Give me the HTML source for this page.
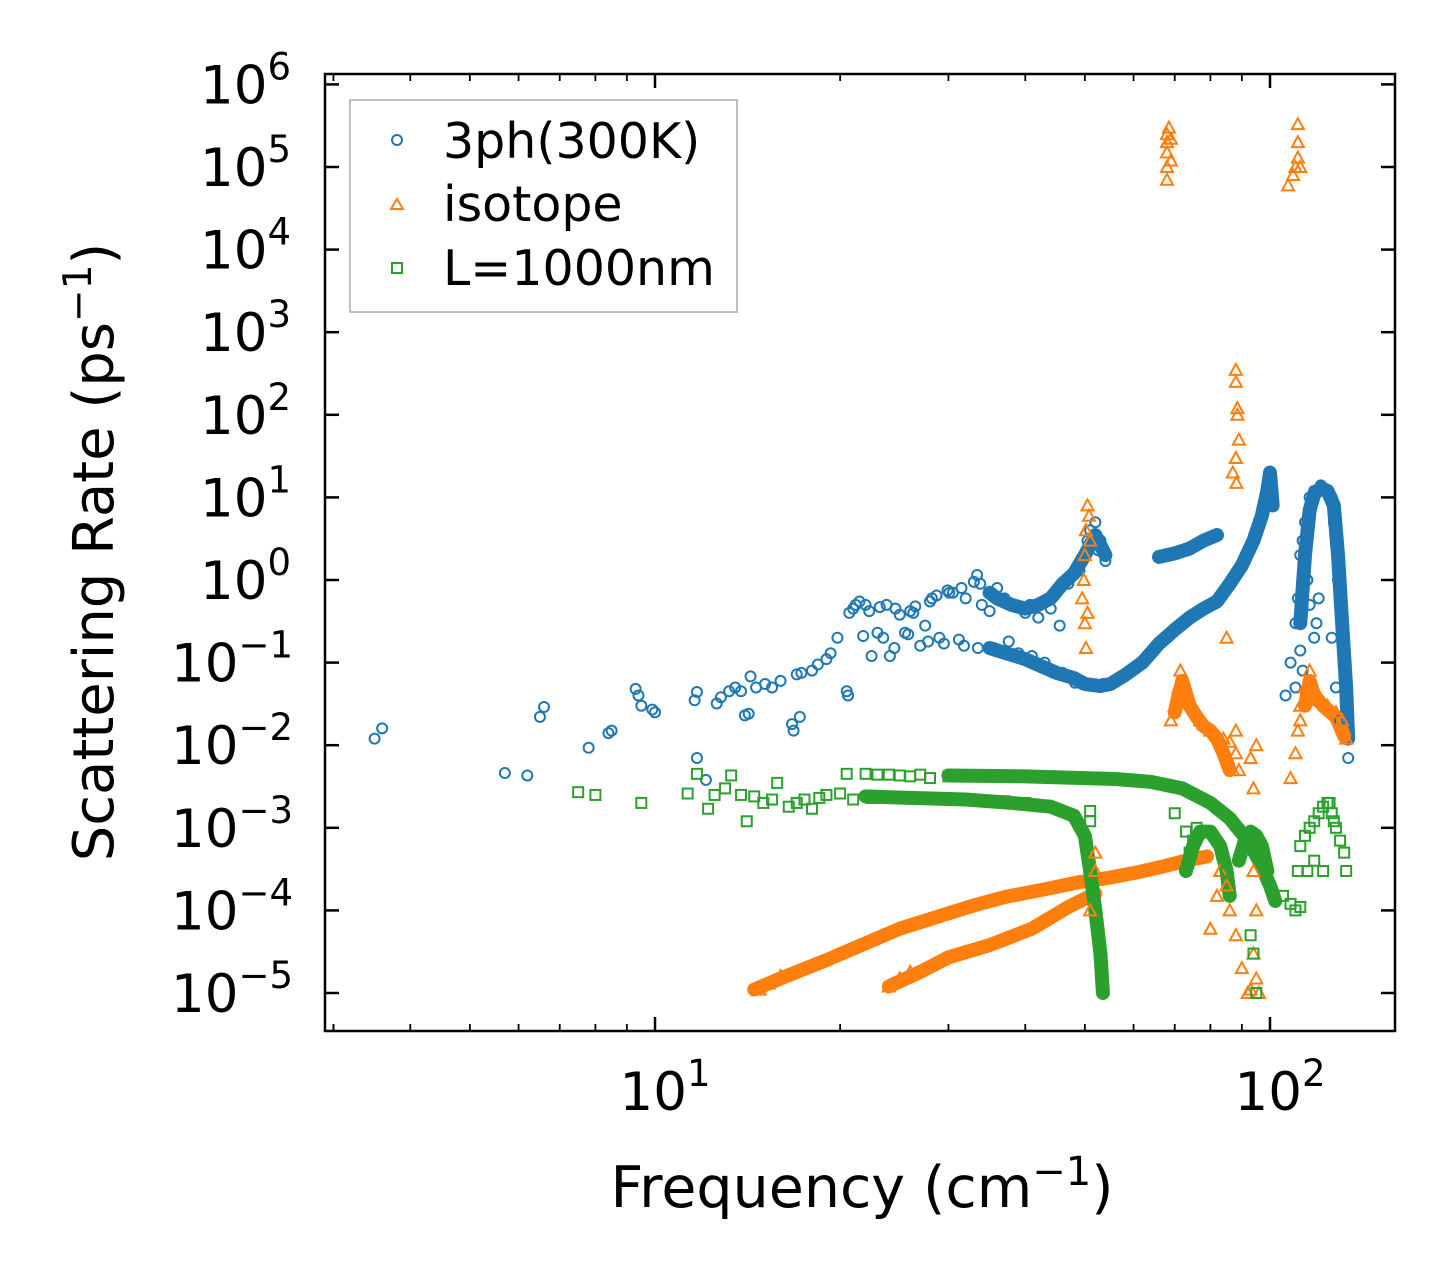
<!DOCTYPE html>
<html><head><meta charset="utf-8">
<style>
html,body{margin:0;padding:0;background:#fff;}
svg{display:block;font-family:"DejaVu Sans","Liberation Sans",sans-serif;}
</style></head>
<body>
<svg id="chart" width="1455" height="1281" viewBox="0 0 1455 1281" xmlns="http://www.w3.org/2000/svg">
<g id="bands"></g>
<g id="marks"></g>
<rect x="325" y="74" width="1070" height="957" fill="none" stroke="#000" stroke-width="2.5"/>
<g id="axes"></g>
<text x="862" y="1207" font-size="57" text-anchor="middle">Frequency (cm<tspan dy="-22" font-size="40">−1</tspan><tspan dy="22">)</tspan></text>
<text transform="translate(113,552) rotate(-90)" font-size="56" text-anchor="middle">Scattering Rate (ps<tspan dy="-22" font-size="39">−1</tspan><tspan dy="22">)</tspan></text>
<g>
<rect x="350" y="100" width="387" height="212" fill="#fff" fill-opacity="0.8" stroke="#aaa" stroke-width="1.5"/>
<circle cx="397" cy="140" r="5" fill="none" stroke="#1f77b4" stroke-width="2"/>
<text x="443" y="158" font-size="49">3ph(300K)</text>
<path d="M391,209 L397,199 L403,209 Z" fill="none" stroke="#ff7f0e" stroke-width="2"/>
<text x="443" y="221" font-size="49">isotope</text>
<rect x="392" y="263" width="10" height="10" fill="none" stroke="#2ca02c" stroke-width="2"/>
<text x="443" y="285" font-size="49">L=1000nm</text>
</g>
</svg>
<script>
const xTicks=[10,100];
const xTickLabels=["1","2"];
const yTickExps=[-5,-4,-3,-2,-1,0,1,2,3,4,5,6];
const blueF=[3.5,3.6,5.7,6.2,6.5,6.6,7.8,8.4,8.5,9.3,9.4,9.5,9.9,10,11.6,11.7,11.7,12.1,12.6,12.8,13.2,13.5,13.8,14.0,14.2,14.3,14.6,15.1,15.5,16,16.7,16.8,17,17.2,17.3,18,18.4,19,19.3,19.8,20.5,20.6,20.7,21,21.5,22,22.5,23,23.2,23.8,24.1,24.5,25,25.5,26,26.5,27,27.5,28,28.7,29,29.9,30.5,31.2,32,33,33.4,34,35,35.5,36,37,37.6,38,39,40,40.7,41,42,43,43.8,44,45,45.5,46,47,48,48.2,49,49.5,50,50.5,51,51.5,52,52.5,53,53.5,54,106,108,110,111,112,113,114,116,118,121,124,126,127,128,129,130,131,132,133,133.5,134,112,113,110,115,116,118,119,120,126,128,130,21.2,22.3,24.6,26.3,28.2,30.1,31.5,33.8,21.8,23.5,25.8,27.8,29.5,31.8,33.5];
const blueV=[0.012,0.016,0.0046,0.0043,0.022,0.029,0.0093,0.014,0.015,0.048,0.04,0.03,0.027,0.025,0.035,0.044,0.007,0.0038,0.032,0.038,0.045,0.05,0.045,0.023,0.024,0.068,0.05,0.055,0.05,0.06,0.018,0.015,0.072,0.022,0.075,0.08,0.095,0.11,0.13,0.2,0.045,0.04,0.4,0.45,0.55,0.5,0.12,0.23,0.47,0.5,0.12,0.15,0.38,0.23,0.42,0.48,0.16,0.28,0.55,0.65,0.2,0.75,0.7,0.19,0.6,0.95,1.15,0.5,0.42,0.15,0.8,0.6,0.18,0.5,0.13,0.4,0.5,0.12,0.35,0.1,0.08,0.45,0.7,0.28,0.075,0.9,0.065,0.057,1.3,0.055,2,3,4,0.052,5,2.3,3,0.055,1.7,0.04,0.1,0.3,0.6,2,3,5,10,12,14,12,10,5,3,1,0.5,0.3,0.1,0.05,0.02,0.007,0.14,0.08,0.05,1,0.5,0.2,0.3,0.6,0.2,0.05,0.02,0.5,0.42,0.45,0.4,0.6,0.7,0.8,0.9,0.21,0.2,0.22,0.18,0.17,0.16,0.15];
const orangeF=[68,68,68,68,68,68.5,69,69,107,109,110,111,111,111,112,49.5,49.8,50,50.2,50.5,50.8,51,50,50.2,50.5,88,88,88.5,88.5,89,88,87,88.2,85,69,70,71,71.5,72,73,74,75,76,77,78,80,82,84,86,88,89,88,87,108,110,111,112,114,116,118,120,124,128,131,133,112,85,86,88,90,92,93,94,95,96,95,94,93,94,95,82,83,80,51,52,52,14.8,15.3,16,24,25,26];
const orangeV=[7e4,1e5,1.5e5,2e5,2.5e5,3e5,1.2e5,2.2e5,6e4,8e4,1e5,1.3e5,3.3e5,2e5,1e5,0.6,1,2,4,8,6,3,0.3,0.15,0.4,350,250,120,100,50,30,20,15,0.2,0.02,0.03,0.05,0.08,0.06,0.045,0.035,0.03,0.025,0.02,0.018,0.015,0.013,0.012,0.011,0.008,0.005,0.015,0.005,0.004,0.008,0.015,0.03,0.05,0.08,0.05,0.035,0.03,0.025,0.02,0.012,0.02,2e-4,1e-4,5e-5,2e-5,1e-5,1.1e-5,3e-5,1.5e-5,1e-5,1e-4,3e-4,0.007,0.003,0.01,1.5e-4,3e-4,6e-5,1e-4,5e-4,3e-4,1.1e-5,1.3e-5,1.6e-5,1.2e-5,1.5e-5,1.8e-5];
const greenF=[7.5,8,9.5,11.3,11.7,12.2,12.5,13,13.3,13.8,14.1,14.5,15,15.5,15.8,16.5,17,17.5,18,18.5,19,20,20.5,21,22,22.5,24,25,26,27,28,29,30,31,32,33,34,35,36,37,38,40,40,42,44,51,51,70,73,75,74,76,85,94,95,93,105,110,111,112,114,116,118,120,122,124,126,128,130,132,133,115,118,122,108,112,125,127,23,25,27];
const greenV=[0.0027,0.0025,0.002,0.0026,0.0045,0.0017,0.0025,0.003,0.0043,0.0025,0.0012,0.0024,0.002,0.0022,0.0035,0.0018,0.002,0.0022,0.0017,0.0023,0.0025,0.0026,0.0045,0.0022,0.0045,0.0023,0.0044,0.0023,0.0042,0.0023,0.004,0.0022,0.0042,0.0022,0.0043,0.0022,0.0043,0.0021,0.0042,0.0021,0.0042,0.002,0.0042,0.0042,0.0042,0.0012,0.0016,0.0015,9e-4,7e-4,5e-4,1e-3,3e-4,3e-5,1e-5,5e-5,1.5e-4,1e-4,3e-4,6e-4,8e-4,1e-3,1.2e-3,1.5e-3,1.8e-3,2e-3,1.5e-3,1e-3,7e-4,5e-4,3e-4,3e-4,4e-4,3e-4,1.2e-4,1.1e-4,2e-3,1.2e-3,0.0044,0.0043,0.0044];
const bandBlueLowF=[35,40,45,48,50,53,55,58,62,66,70,74,78,82,86,90,94,97,99,100,101];
const bandBlueLowV=[0.15,0.11,0.075,0.065,0.055,0.052,0.055,0.07,0.1,0.17,0.25,0.35,0.45,0.55,0.9,1.5,3,6,12,20,8];
const bandBlueArcF=[66,70,74,78,82];
const bandBlueArcV=[1.9,2.1,2.4,3,3.5];
const bandBlueMidF=[35,36,38,40,42,44,46,48,50,52,54];
const bandBlueMidV=[0.7,0.6,0.5,0.45,0.5,0.6,0.9,1.2,2,3.5,2];
const bandBluePeakF=[112,114,116,118,121,124,127,129,131,133,134];
const bandBluePeakV=[0.3,2,7,11,13,12,8,2,0.3,0.05,0.012];
const bandOrgLowF=[14.5,16,19,22,25,29,33,37,43,49,55,61,67,73,79];
const bandOrgLowV=[1.1e-5,1.5e-5,2.5e-5,4e-5,6e-5,8.5e-5,1.15e-4,1.45e-4,1.8e-4,2.2e-4,2.5e-4,2.9e-4,3.4e-4,4e-4,4.5e-4];
const bandOrgLow2F=[24,27,30,35,41,47,52];
const bandOrgLow2V=[1.2e-5,1.8e-5,2.7e-5,3.8e-5,6e-5,1.1e-4,1.6e-4];
const bandOrgMidF=[70,71,72,74,76,78,80,82,84,86];
const bandOrgMidV=[0.025,0.04,0.06,0.03,0.022,0.017,0.015,0.012,0.008,0.005];
const bandOrgRightF=[114,116,118,122,128,132];
const bandOrgRightV=[0.03,0.06,0.04,0.03,0.022,0.013];
const bandGrnTopF=[30,40,50,56,64,72,80,86,92,96,100,102];
const bandGrnTopV=[0.0043,0.0042,0.004,0.0039,0.0036,0.003,0.002,0.0013,7e-4,4e-4,2e-4,1.3e-4];
const bandGrnLowF=[22,26,32,38,44,48,50,51,52,53,53.5];
const bandGrnLowV=[0.0024,0.0023,0.0022,0.002,0.0018,0.0014,8e-4,3e-4,1e-4,3e-5,1e-5];
const bandGrnArcF=[73,75,77,80,83,85,86];
const bandGrnArcV=[3e-4,6e-4,9e-4,9e-4,6e-4,3e-4,1.5e-4];
const bandGrnArc2F=[89,91,93,95,97,99];
const bandGrnArc2V=[4e-4,7e-4,9e-4,8e-4,6e-4,3e-4];

const NS="http://www.w3.org/2000/svg";
function sx(f){return 40+615*Math.log10(f);}
function sy(v){return 580-82.6*Math.log10(v);}
const bands=document.getElementById('bands'),marks=document.getElementById('marks'),axes=document.getElementById('axes');
function band(F,V,col,name){
  const p=document.createElementNS(NS,'polyline');
  p.setAttribute('points',F.map((f,i)=>sx(f)+','+sy(V[i])).join(' '));
  p.setAttribute('fill','none');p.setAttribute('stroke',col);p.setAttribute('stroke-width','14');
  p.setAttribute('stroke-linejoin','round');p.setAttribute('stroke-linecap','round');
  
  
  bands.appendChild(p);
}
band(bandBlueLowF,bandBlueLowV,'#1f77b4','band-3ph-lower');
band(bandBlueArcF,bandBlueArcV,'#1f77b4','band-3ph-arc');
band(bandBlueMidF,bandBlueMidV,'#1f77b4','band-3ph-mid');
band(bandBluePeakF,bandBluePeakV,'#1f77b4','band-3ph-peak');
band(bandOrgLowF,bandOrgLowV,'#ff7f0e','band-isotope-low');
band(bandOrgLow2F,bandOrgLow2V,'#ff7f0e','band-isotope-low2');
band(bandOrgMidF,bandOrgMidV,'#ff7f0e','band-isotope-mid');
band(bandOrgRightF,bandOrgRightV,'#ff7f0e','band-isotope-right');
band(bandGrnTopF,bandGrnTopV,'#2ca02c','band-boundary-top');
band(bandGrnLowF,bandGrnLowV,'#2ca02c','band-boundary-low');
band(bandGrnArcF,bandGrnArcV,'#2ca02c','band-boundary-arc');
band(bandGrnArc2F,bandGrnArc2V,'#2ca02c','band-boundary-arc2');
blueF.forEach((f,i)=>{
  const c=document.createElementNS(NS,'circle');
  c.setAttribute('cx',sx(f));c.setAttribute('cy',sy(blueV[i]));c.setAttribute('r','5');
  c.setAttribute('fill','none');c.setAttribute('stroke','#1f77b4');c.setAttribute('stroke-width','2');
  
  
  marks.appendChild(c);
});
orangeF.forEach((f,i)=>{
  const x=sx(f),y=sy(orangeV[i]);
  const p=document.createElementNS(NS,'path');
  p.setAttribute('d',`M${x-6},${y+5} L${x},${y-6} L${x+6},${y+5} Z`);
  p.setAttribute('fill','none');p.setAttribute('stroke','#ff7f0e');p.setAttribute('stroke-width','2');
  
  
  marks.appendChild(p);
});
greenF.forEach((f,i)=>{
  const r=document.createElementNS(NS,'rect');
  r.setAttribute('x',sx(f)-5);r.setAttribute('y',sy(greenV[i])-5);r.setAttribute('width','10');r.setAttribute('height','10');
  r.setAttribute('fill','none');r.setAttribute('stroke','#2ca02c');r.setAttribute('stroke-width','2');
  
  
  marks.appendChild(r);
});
function line(x1,y1,x2,y2,w,name){
  const l=document.createElementNS(NS,'line');
  l.setAttribute('x1',x1);l.setAttribute('y1',y1);l.setAttribute('x2',x2);l.setAttribute('y2',y2);
  l.setAttribute('stroke','#000');l.setAttribute('stroke-width',w);
  
  
  axes.appendChild(l);
}
function text(x,y,exp,anchor,name){
  const t=document.createElementNS(NS,'text');
  t.setAttribute('x',x);t.setAttribute('y',y);t.setAttribute('font-size','53');t.setAttribute('text-anchor',anchor);
  t.innerHTML='10<tspan dy="-24" font-size="37">'+exp+'</tspan>';
  
  
  axes.appendChild(t);
}
xTicks.forEach((f,i)=>{
  const x=sx(f);
  line(x,1031,x,1017,2.5,'x-major-tick');
  line(x,74,x,88,2.5,'x-major-tick-top');
  text(x+10,1110,xTickLabels[i],'middle','x-tick-label');
});
for(let d=1;d<=100;d*=10){for(let m=2;m<=9;m++){const f=m*d;if(f<2.9||f>160)continue;const x=sx(f);
  line(x,1031,x,1024,1.8,'x-minor-tick');line(x,74,x,81,1.8,'x-minor-tick-top');}}
line(sx(3),1031,sx(3),1024,1.8,'x-minor-tick');
yTickExps.forEach(e=>{
  const y=sy(Math.pow(10,e));
  line(325,y,339,y,2.5,'y-major-tick');line(1395,y,1381,y,2.5,'y-major-tick-right');
  const lab=e<0?'−'+(-e):String(e);
  text(e<0?293:291,y+19,lab,'end','y-tick-label');
});
</script>
</body></html>
